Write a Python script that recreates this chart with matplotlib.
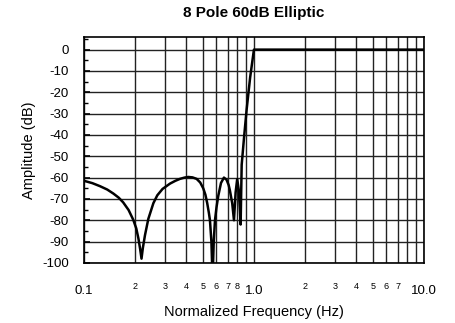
import numpy as np
import matplotlib.pyplot as plt
from matplotlib.ticker import FixedLocator, FixedFormatter, NullFormatter

plt.rcParams['font.family'] = ['Liberation Sans', 'DejaVu Sans']
plt.rcParams['axes.unicode_minus'] = False

# amplitude response
freq = [0.100, 0.112, 0.124, 0.137, 0.149, 0.160, 0.170, 0.183, 0.195,
        0.203, 0.209, 0.214, 0.218, 0.222, 0.2285, 0.239, 0.256, 0.270,
        0.290, 0.321, 0.345, 0.367, 0.390, 0.411, 0.435, 0.460, 0.483,
        0.503, 0.518, 0.531, 0.543, 0.551, 0.562, 0.571, 0.580, 0.590,
        0.602, 0.617, 0.640, 0.666, 0.690, 0.710, 0.722, 0.745, 0.763,
        0.780, 0.797, 0.815, 0.835, 0.847, 0.875, 0.906, 0.950, 1.000,
        1.05, 2.0, 5.0, 10.0]
amp = [-61.5, -62.6, -64.0, -65.6, -67.5, -69.4, -71.6, -75.2, -79.8,
       -83.8, -88.5, -93.5, -98.0, -93.0, -87.0, -79.4, -72.0, -68.3,
       -65.3, -62.8, -61.5, -60.6, -60.0, -59.7, -59.9, -60.6, -62.3,
       -65.0, -68.0, -72.0, -76.5, -80.0, -90.0, -108, -90.0, -80.0,
       -74.0, -68.5, -62.5, -60.0, -61.0, -63.5, -66.0, -72.0, -80.0,
       -67.0, -60.7, -66.0, -82.0, -54.0, -41.0, -28.0, -13.0, 0.0,
       0.0, 0.0, 0.0, 0.0]

major_x = [0.1, 1.0, 10.0]
major_lbl = ['0.1', '1.0', '10.0']
minor_x = [0.2, 0.3, 0.4, 0.5, 0.6, 0.7, 0.8, 0.9,
           2, 3, 4, 5, 6, 7, 8, 9]
minor_lbl = ['2', '3', '4', '5', '6', '7', '8', '',
             '2', '3', '4', '5', '6', '7', '', '']
y_major = list(range(-100, 1, 10))
y_minor = list(range(-95, 6, 10))

fig = plt.figure(figsize=(4.55, 3.23), dpi=100)
ax = fig.add_axes([0.1846, 0.186, 0.747, 0.7])

ax.plot(freq, amp, color='black', lw=1.8, zorder=3)
ax.set_xscale('log')
ax.set_xlim(0.1, 10)
ax.set_ylim(-100, 6)

ax.xaxis.set_major_locator(FixedLocator(major_x))
ax.xaxis.set_major_formatter(FixedFormatter(major_lbl))
ax.xaxis.set_minor_locator(FixedLocator(minor_x))
ax.xaxis.set_minor_formatter(FixedFormatter(minor_lbl))
ax.yaxis.set_major_locator(FixedLocator(y_major))
ax.yaxis.set_minor_locator(FixedLocator(y_minor))
ax.yaxis.set_minor_formatter(NullFormatter())

ax.tick_params(axis='x', which='major', direction='in', length=0, pad=16, labelsize=9.5)
ax.tick_params(axis='x', which='minor', direction='in', length=0, pad=14, labelsize=6.5)
ax.tick_params(axis='y', which='major', direction='in', length=4, width=1.2, pad=11, labelsize=9.5)
ax.tick_params(axis='y', which='minor', direction='in', length=3, width=1, pad=11)

ax.grid(True, which='both', axis='x', color='#222222', lw=1.0)
ax.grid(True, which='major', axis='y', color='#222222', lw=1.0)
for s in ax.spines.values():
    s.set_linewidth(1.2)

ax.set_title('8 Pole 60dB Elliptic', fontsize=11, fontweight='bold', pad=14)
ax.set_xlabel('Normalized Frequency (Hz)', fontsize=10.5)
ax.set_ylabel('Amplitude (dB)', fontsize=10.5)
ax.xaxis.set_label_coords(0.5, -0.185)
ax.yaxis.set_label_coords(-0.14, 0.5)

plt.savefig('out.png', dpi=100)
